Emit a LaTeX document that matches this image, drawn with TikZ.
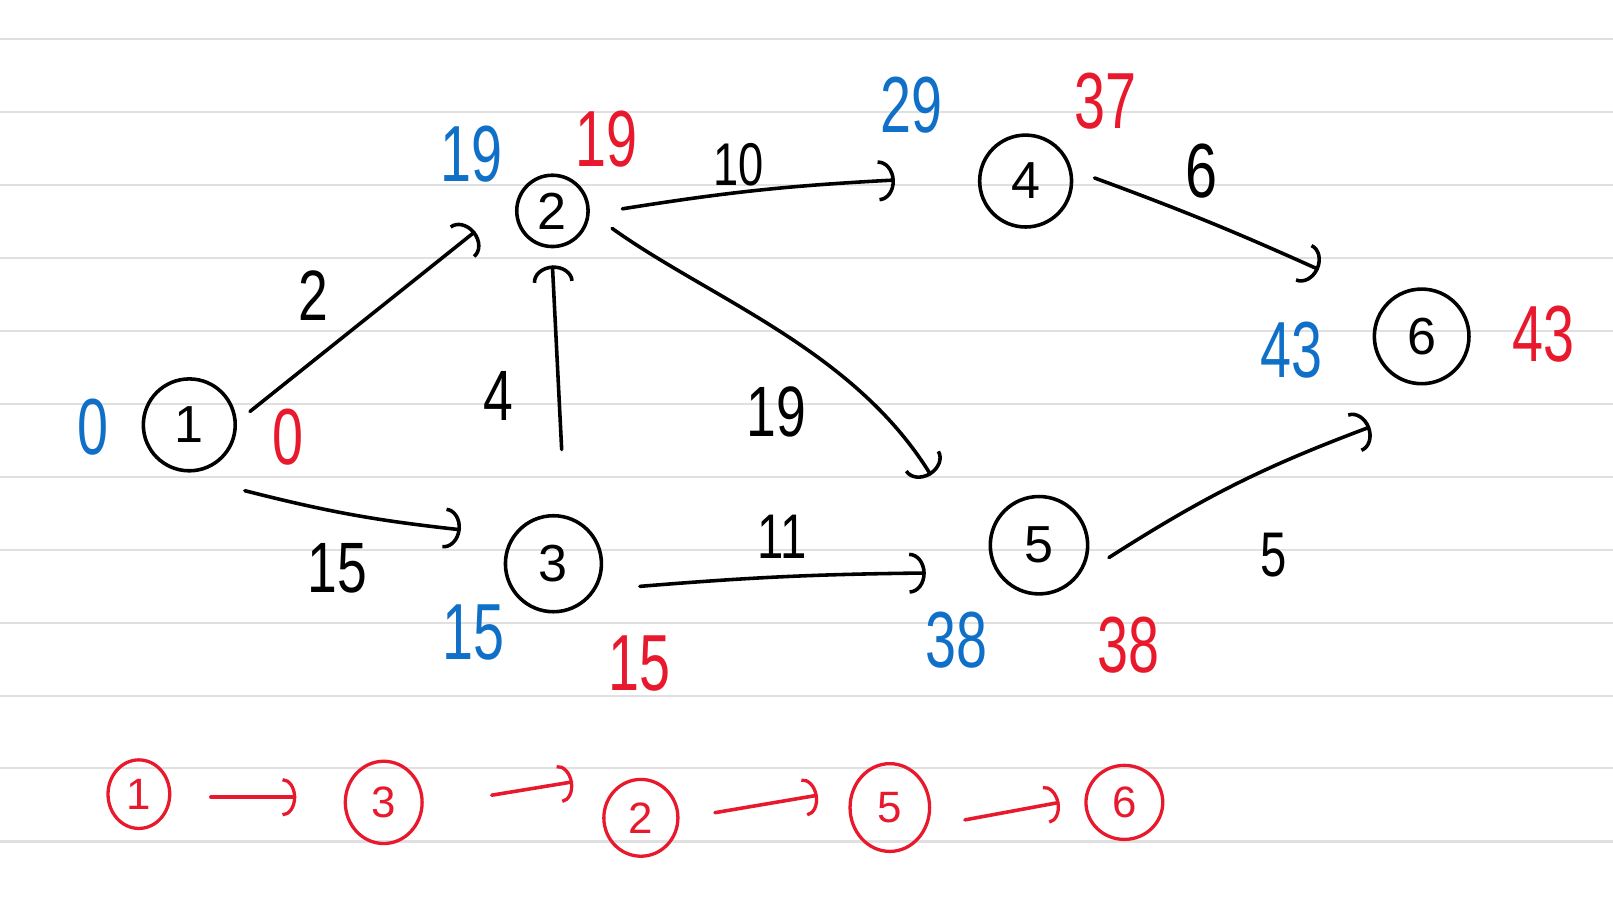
\documentclass[tikz,border=0pt]{standalone}
\usepackage{fontspec}
\setmainfont{Liberation Sans}
\usetikzlibrary{arrows.meta,calc,shapes.geometric}
\definecolor{hblue}{HTML}{1070C8}
\definecolor{hred}{HTML}{E8192C}
\definecolor{ruleline}{HTML}{E0E0E0}
\begin{document}
\begin{tikzpicture}[x=0.75pt,y=-0.75pt,
  vtx/.style={circle,draw,line width=2.6pt,inner sep=0pt,outer sep=0pt,font=\fontsize{38}{38}\selectfont},
  bvx/.style={ellipse,draw=hred,text=hred,line width=2.4pt,inner sep=0pt,outer sep=0pt,font=\fontsize{32}{32}\selectfont},
  dist/.style={inner sep=0pt,xscale=0.7,font=\fontsize{58}{58}\selectfont},
  blu/.style={dist,text=hblue},
  rd/.style={dist,text=hred},
  wt/.style={inner sep=0pt,xscale=0.75,font=\fontsize{52}{52}\selectfont},
  edge/.style={line width=2.6pt,line cap=round,-{Arc Barb[length=12pt,width=30pt,line width=2.6pt]}},
  redge/.style={edge,draw=hred,-{Arc Barb[length=10pt,width=28pt,line width=2.4pt]}}
]
\useasboundingbox (0,0) rectangle (1568,878);
\fill[white] (0,0) rectangle (1568,878);
\foreach \yy in {38,109,180,251,322,393,464,535,606,677,747,818}
  \draw[ruleline,line width=1.5pt] (0,\yy) -- (1568,\yy);

% vertices
\node[vtx,minimum size=67pt] (n1) at (184,413) {1};
\node[vtx,minimum size=52pt] (n2) at (537,205) {2};
\node[vtx,minimum size=70pt] (n3) at (538,548) {3};
\node[vtx,minimum size=67pt] (n4) at (997,176) {4};
\node[vtx,minimum size=71pt] (n5) at (1010,530) {5};
\node[vtx,minimum size=69pt] (n6) at (1382,327) {6};

% edges
\draw[edge] ($(n1)+(59,-13)$) -- ($(n2)+(-75,20)$);
\draw[edge] ($(n1)+(54,64)$) to[bend right=4] ($(n3)+(-90,-33)$);
\draw[edge] ($(n3)+(8,-111)$) -- ($(n2)+(0,53)$);
\draw[edge] ($(n2)+(68,-2)$) to[bend left=3] ($(n4)+(-127,-1)$);
\draw[edge] ($(n2)+(58,17)$) .. controls (690,290) and (830,340) .. ($(n5)+(-105,-68)$);
\draw[edge] ($(n3)+(84,22)$) to[bend left=2] ($(n5)+(-110,27)$);
\draw[edge] ($(n4)+(67,-3)$) to[bend left=2] ($(n6)+(-100,-65)$);
\draw[edge] ($(n5)+(68,12)$) to[bend left=6] ($(n6)+(-50,88)$);

% edge weights
\node[wt] (w12) at (305,287) {2};
\node[wt] (w13) at (328,552) {15};
\node[wt] (w32) at (484,385) {4};
\node[wt] (w25) at (755,400) {19};
\node[wt,font=\fontsize{44}{44}\selectfont] (w24) at (718,160) {10};
\node[wt,font=\fontsize{46}{46}\selectfont] (w35) at (760,522) {11};
\node[wt,font=\fontsize{56}{56}\selectfont] (w46) at (1168,166) {6};
\node[wt,font=\fontsize{46}{46}\selectfont] (w56) at (1238,540) {5};

% earliest (blue) / latest (red)
\node[blu] (e1) at (90,415) {0};
\node[rd]  (l1) at (280,425) {0};
\node[blu] (e2) at (458,150) {19};
\node[rd]  (l2) at (590,135) {19};
\node[blu] (e4) at (886,102) {29};
\node[rd]  (l4) at (1075,98) {37};
\node[blu] (e6) at (1255,340) {43};
\node[rd]  (l6) at (1500,325) {43};
\node[blu] (e3) at (460,615) {15};
\node[rd]  (l3) at (622,645) {15};
\node[blu] (e5) at (930,622) {38};
\node[rd]  (l5) at (1097,627) {38};

% critical path
\node[bvx,minimum width=45pt,minimum height=50pt] (b1) at (135,772) {1};
\node[bvx,minimum width=56pt,minimum height=60pt] (b3) at (373,780) {3};
\node[bvx,minimum width=54pt,minimum height=56pt] (b2) at (623,795) {2};
\node[bvx,minimum width=58pt,minimum height=64pt] (b5) at (865,785) {5};
\node[bvx,minimum width=56pt,minimum height=54pt] (b6) at (1093,780) {6};
\draw[redge] ($(b1)+(70,3)$) -- ($(b3)+(-85,-5)$);
\draw[redge] ($(b3)+(105,-7)$) -- ($(b2)+(-66,-35)$);
\draw[redge] ($(b2)+(72,-5)$) -- ($(b5)+(-70,-12)$);
\draw[redge] ($(b5)+(73,12)$) -- ($(b6)+(-63,0)$);
\end{tikzpicture}
\end{document}
